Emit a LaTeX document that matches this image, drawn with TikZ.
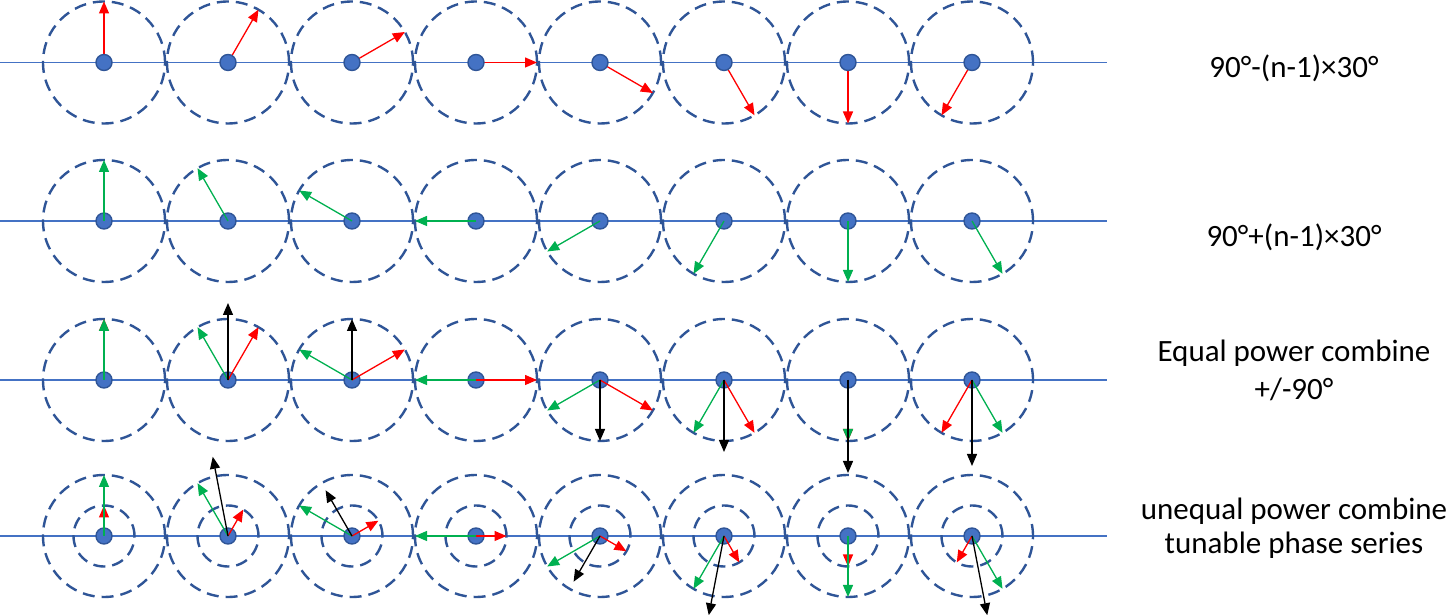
\documentclass[tikz,border=0pt]{standalone}
\usepackage{fontspec}
\setmainfont{Carlito}
\usetikzlibrary{arrows.meta}

\definecolor{dotblue}{HTML}{4472C4}
\definecolor{ringblue}{HTML}{2F5597}
\definecolor{vecred}{HTML}{FF0000}
\definecolor{vecgreen}{HTML}{00B050}

\tikzset{
    axis/.style={draw=dotblue,line width=1.1pt},
    ring/.style={draw=ringblue,line width=2.4pt,dash pattern=on 12pt off 7pt},
    phasor/.style={circle,draw=ringblue,fill=dotblue,line width=1.4pt,
        inner sep=0pt,minimum size=16pt},
    vec/.style={line width=1.3pt,-{Triangle[length=12pt,width=10pt]}},
    redvec/.style={vec,vecred},
    greenvec/.style={vec,vecgreen},
    sumvec/.style={vec,black},
    rowlabel/.style={font=\fontsize{31}{38}\selectfont,align=center,anchor=base}
}

\begin{document}
\begin{tikzpicture}[x=1pt,y=1pt]
    \useasboundingbox (0,0) rectangle (1448,615);

    % row 1: 90-(n-1)x30
    \draw[axis] (0,552.5) -- (1107,552.5);
    \foreach \n in {1,...,8}{
        \coordinate (o1-\n) at ({104+124*(\n-1)},552.5);
        \draw[ring] (o1-\n) circle (61);
        \draw[redvec] (o1-\n) -- ++({90-(\n-1)*30}:61);
        \node[phasor] (a\n) at (o1-\n) {};
    }

    % row 2: 90+(n-1)x30
    \draw[axis] (0,394) -- (1107,394);
    \foreach \n in {1,...,8}{
        \draw[ring] ({104+124*(\n-1)},394) circle (61);
        \node[phasor] (b\n) at ({104+124*(\n-1)},394) {};
        \draw[greenvec] (b\n.center) -- ++({90+(\n-1)*30}:61);
    }

    % row 3: equal power
    \draw[axis] (0,235) -- (1107,235);
    \foreach \n in {1,...,8}{
        \draw[ring] ({104+124*(\n-1)},235) circle (61);
        \node[phasor] (c\n) at ({104+124*(\n-1)},235) {};
        \draw[redvec] (c\n.center) -- ++({90-(\n-1)*30}:61);
        \draw[greenvec] (c\n.center) -- ++({90+(\n-1)*30}:61);
    }
    \foreach \n/\len in {2/77,3/61,5/-61,6/-72,7/-93,8/-86}
        \draw[sumvec] (c\n.center) -- ++(0,\len);

    % row 4: unequal power
    \draw[axis] (0,79) -- (1107,79);
    \foreach \n in {1,...,8}{
        \draw[ring] ({104+124*(\n-1)},79) circle (61);
        \draw[ring] ({104+124*(\n-1)},79) circle (30.5);
        \node[phasor] (d\n) at ({104+124*(\n-1)},79) {};
        \draw[redvec] (d\n.center) -- ++({90-(\n-1)*30}:30.5);
        \draw[greenvec] (d\n.center) -- ++({90+(\n-1)*30}:61);
    }
    \foreach \n in {2,3,5,6,8}
        \draw[sumvec] (d\n.center) -- ++({30.5*cos(90-(\n-1)*30)+61*cos(90+(\n-1)*30)},
            {30.5*sin(90-(\n-1)*30)+61*sin(90+(\n-1)*30)});

    % labels (base = last line)
    \node[rowlabel] (lab1) at (1294,537) {90°-(n-1)×30°};
    \node[rowlabel] (lab2) at (1294,368) {90°+(n-1)×30°};
    \node[rowlabel] (lab3) at (1294,215) {Equal power combine\\+/-90°};
    \node[rowlabel,font=\fontsize{31}{34}\selectfont] (lab4) at (1294,61)
        {unequal power combine\\tunable phase series};
\end{tikzpicture}
\end{document}
